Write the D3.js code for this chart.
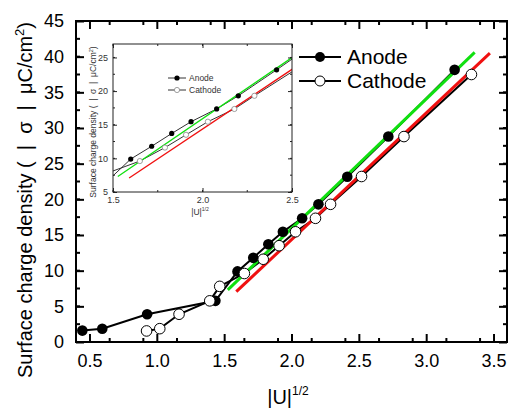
<!DOCTYPE html>
<html>
<head>
<meta charset="utf-8">
<script src="https://cdn.jsdelivr.net/npm/d3@7"></script>
<style>
  body { margin: 0; background: #fff; }
  text { font-family: "Liberation Sans", Arial, sans-serif; }
</style>
</head>
<body>
<svg id="chart" width="508" height="409"></svg>
<script>
// values
const anodeU = [0.447, 0.595, 0.928, 1.435, 1.599, 1.716, 1.828, 1.936, 2.079, 2.2, 2.414, 2.719, 3.211];
const anodeSigma = [1.6, 1.85, 3.89, 5.77, 9.9, 11.8, 13.7, 15.45, 17.35, 19.3, 23.16, 28.8, 38.15];
const cathodeU = [0.924, 1.022, 1.165, 1.393, 1.467, 1.65, 1.79, 1.908, 2.03, 2.178, 2.29, 2.52, 2.835, 3.336];
const cathodeSigma = [1.55, 1.87, 3.89, 5.77, 7.8, 9.6, 11.6, 13.5, 15.45, 17.34, 19.3, 23.2, 28.8, 37.5];
// linear fits (end points)
const anodeFit = [[1.527, 7.3], [3.36, 40.6]];
const cathodeFit = [[1.59, 7.07], [3.473, 40.5]];

const xTicks = [0.5, 1.0, 1.5, 2.0, 2.5, 3.0, 3.5];
const yTicks = [0, 5, 10, 15, 20, 25, 30, 35, 40, 45];
const insetXTicks = [1.5, 2.0, 2.5];
const insetYTicks = [5, 10, 15, 20, 25];

const svg = d3.select("#chart");

const anode = anodeU.map((u, i) => [u, anodeSigma[i]]);
const cathode = cathodeU.map((u, i) => [u, cathodeSigma[i]]);

function drawPanel(g, opt) {
    const x = d3.scaleLinear().domain(opt.xDomain).range([opt.left, opt.right]);
    const y = d3.scaleLinear().domain(opt.yDomain).range([opt.bottom, opt.top]);

    g.append("rect")
        .attr("x", opt.left).attr("y", opt.top)
        .attr("width", opt.right - opt.left).attr("height", opt.bottom - opt.top)
        .attr("fill", "#fff");

    const clipId = opt.id + "-clip";
    g.append("clipPath").attr("id", clipId)
        .append("rect")
        .attr("x", opt.left).attr("y", opt.top)
        .attr("width", opt.right - opt.left).attr("height", opt.bottom - opt.top);

    const plot = g.append("g").attr("clip-path", `url(#${clipId})`);
    const line = d3.line().x(d => x(d[0])).y(d => y(d[1]));

    // data lines
    [anode, cathode].forEach(s => {
        plot.append("path")
            .attr("d", line(s))
            .attr("fill", "none")
            .attr("stroke", opt.lineColor)
            .attr("stroke-width", opt.lineW);
    });

    // fits
    plot.append("path").attr("d", line(anodeFit))
        .attr("stroke", "#10e010").attr("stroke-width", opt.fitW).attr("fill", "none");
    plot.append("path").attr("d", line(cathodeFit))
        .attr("stroke", "#f01010").attr("stroke-width", opt.fitW).attr("fill", "none");

    // markers
    plot.selectAll(".an").data(anode).enter().append("circle")
        .attr("cx", d => x(d[0])).attr("cy", d => y(d[1]))
        .attr("r", opt.r).attr("fill", "#000");
    plot.selectAll(".ca").data(cathode).enter().append("circle")
        .attr("cx", d => x(d[0])).attr("cy", d => y(d[1]))
        .attr("r", opt.r).attr("fill", "#fff")
        .attr("stroke", opt.markerStroke).attr("stroke-width", opt.markerW);

    // axes with inward ticks on all four sides
    const xMinor = d3.range(opt.xDomain[0], opt.xDomain[1] + 1e-9, opt.xMinorStep);
    const yMinor = d3.range(opt.yDomain[0], opt.yDomain[1] + 1e-9, opt.yMinorStep);

    const axB = d3.axisBottom(x).tickValues(opt.xTicks).tickSizeInner(-opt.tick).tickSizeOuter(0)
        .tickPadding(opt.tick + opt.pad).tickFormat(d3.format(".1f"));
    const axL = d3.axisLeft(y).tickValues(opt.yTicks).tickSizeInner(-opt.tick).tickSizeOuter(0)
        .tickPadding(opt.tick + opt.pad).tickFormat(d3.format("d"));

    const minorX = (sel, y0, dir) => sel.selectAll(null).data(xMinor).enter().append("line")
        .attr("x1", d => x(d)).attr("x2", d => x(d))
        .attr("y1", y0).attr("y2", y0 + dir * opt.minorTick)
        .attr("stroke", opt.axisColor).attr("stroke-width", opt.axisW);
    const minorY = (sel, x0, dir) => sel.selectAll(null).data(yMinor).enter().append("line")
        .attr("y1", d => y(d)).attr("y2", d => y(d))
        .attr("x1", x0).attr("x2", x0 + dir * opt.minorTick)
        .attr("stroke", opt.axisColor).attr("stroke-width", opt.axisW);

    const axes = g.append("g");
    minorX(axes, opt.bottom, -1);
    minorX(axes, opt.top, 1);
    minorY(axes, opt.left, 1);
    minorY(axes, opt.right, -1);

    const gb = axes.append("g").attr("transform", `translate(0,${opt.bottom})`).call(axB);
    const gt = axes.append("g").attr("transform", `translate(0,${opt.top})`)
        .call(d3.axisTop(x).tickValues(opt.xTicks).tickSizeInner(-opt.tick).tickSizeOuter(0).tickFormat(""));
    const gl = axes.append("g").attr("transform", `translate(${opt.left},0)`).call(axL);
    const gr = axes.append("g").attr("transform", `translate(${opt.right},0)`)
        .call(d3.axisRight(y).tickValues(opt.yTicks).tickSizeInner(-opt.tick).tickSizeOuter(0).tickFormat(""));
    [gb, gt, gl, gr].forEach(a => {
        a.select(".domain").remove();
        a.selectAll(".tick line").attr("stroke", opt.axisColor).attr("stroke-width", opt.axisW);
        a.selectAll(".tick text").attr("fill", opt.textColor)
            .attr("font-size", opt.tickFont)
            .style("font-family", '"Liberation Sans", Arial, sans-serif');
    });

    axes.append("rect")
        .attr("x", opt.left).attr("y", opt.top)
        .attr("width", opt.right - opt.left).attr("height", opt.bottom - opt.top)
        .attr("fill", "none").attr("stroke", opt.axisColor).attr("stroke-width", opt.axisW);

    // legend
    const lg = g.append("g");
    [["Anode", "#000", opt.legendY[0]], ["Cathode", "#fff", opt.legendY[1]]].forEach(([name, fill, ly]) => {
        lg.append("line")
            .attr("x1", opt.legendX[0]).attr("x2", opt.legendX[1])
            .attr("y1", ly).attr("y2", ly)
            .attr("stroke", opt.lineColor).attr("stroke-width", opt.lineW);
        lg.append("circle")
            .attr("cx", (opt.legendX[0] + opt.legendX[1]) / 2).attr("cy", ly)
            .attr("r", opt.legendR).attr("fill", fill)
            .attr("stroke", fill === "#000" ? "none" : opt.markerStroke).attr("stroke-width", opt.markerW);
        lg.append("text")
            .attr("x", opt.legendX[1] + opt.legendGap).attr("y", ly)
            .attr("dy", "0.35em")
            .attr("font-size", opt.legendFont).attr("fill", opt.textColor)
            .text(name);
    });

    // axis titles
    const yl = g.append("text")
        .attr("transform", `translate(${opt.yLabelPos[0]},${opt.yLabelPos[1]}) rotate(-90)`)
        .attr("text-anchor", "middle")
        .style("white-space", "pre")
        .attr("font-size", opt.labelFont).attr("fill", opt.textColor);
    yl.append("tspan").text("Surface charge density (  |  σ  |  μC/cm");
    yl.append("tspan").attr("dy", -opt.labelFont * 0.4).attr("font-size", opt.labelFont * 0.65).text("2");
    yl.append("tspan").attr("dy", opt.labelFont * 0.4).text(")");

    const xl = g.append("text")
        .attr("x", opt.xLabelPos[0]).attr("y", opt.xLabelPos[1])
        .attr("text-anchor", "middle")
        .attr("font-size", opt.labelFont).attr("fill", opt.textColor);
    xl.append("tspan").text("|U|");
    xl.append("tspan").attr("dy", -opt.labelFont * 0.45).attr("font-size", opt.labelFont * 0.6).text("1/2");
}

// main plot
drawPanel(svg.append("g"), {
    id: "main",
    left: 76, right: 507, top: 21, bottom: 342,
    xDomain: [0.4, 3.6], yDomain: [0, 45],
    xTicks: xTicks, yTicks: yTicks,
    xMinorStep: 0.25, yMinorStep: 2.5,
    tick: 8, minorTick: 4, pad: 4,
    axisW: 2, axisColor: "#000", textColor: "#000",
    lineW: 2, lineColor: "#000", fitW: 3,
    r: 5.3, markerStroke: "#000", markerW: 1,
    tickFont: 18,
    legendX: [299, 341], legendY: [57, 81], legendR: 5, legendGap: 6, legendFont: 21,
    labelFont: 20, yLabelPos: [32, 200], xLabelPos: [288, 404]
});

// inset
drawPanel(svg.append("g"), {
    id: "inset",
    left: 113, right: 292, top: 44, bottom: 192,
    xDomain: [1.5, 2.5], yDomain: [5, 27],
    xTicks: insetXTicks, yTicks: insetYTicks,
    xMinorStep: 0.25, yMinorStep: 2.5,
    tick: 4, minorTick: 2, pad: 1,
    axisW: 1, axisColor: "#222", textColor: "#333",
    lineW: 1, lineColor: "#333", fitW: 1.3,
    r: 2.6, markerStroke: "#888", markerW: 0.8,
    tickFont: 9,
    legendX: [168, 186], legendY: [78, 90], legendR: 2.6, legendGap: 3, legendFont: 8.5,
    labelFont: 8.5, yLabelPos: [96, 122], xLabelPos: [200, 215]
});
</script>
</body>
</html>
